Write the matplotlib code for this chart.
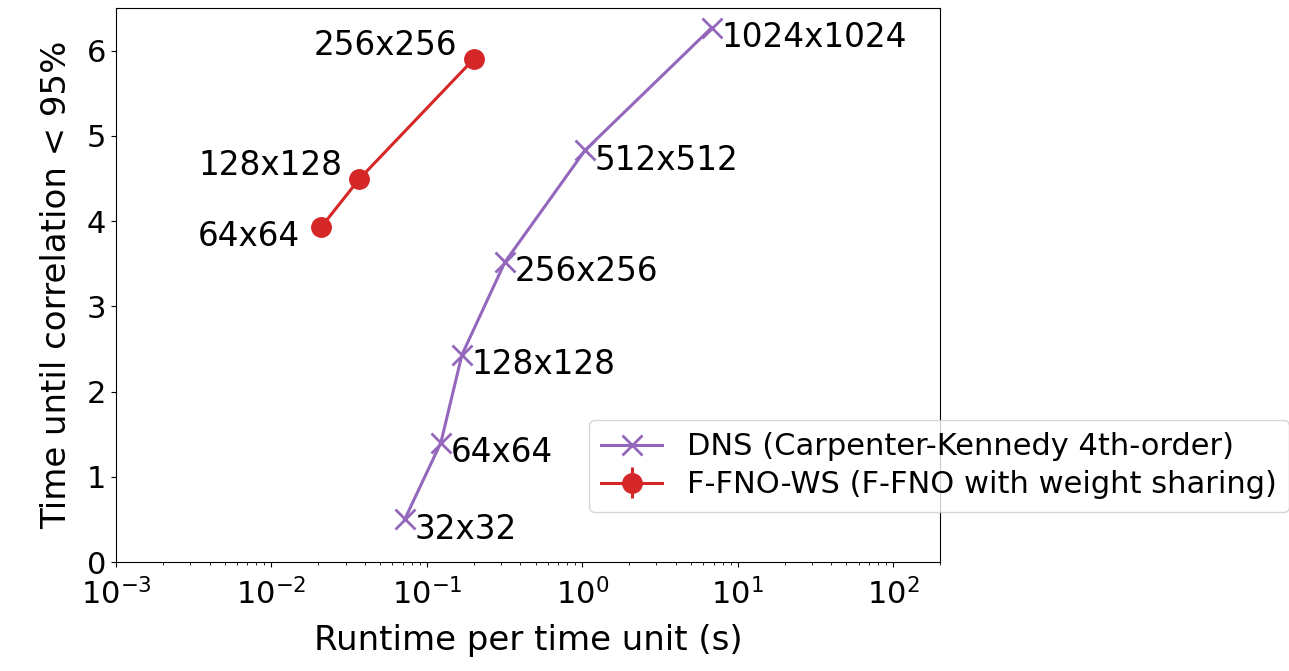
"""
Runtime vs. time until correlation drops below 95%, DNS vs F-FNO-WS.
"""

import matplotlib
matplotlib.use("Agg")
import matplotlib.pyplot as plt

plt.rcParams.update({'font.size': 22})

# ============================== data =========================================

dns_labels = ["32x32", "64x64", "128x128", "256x256", "512x512", "1024x1024"]
dns_runtime = [0.072, 0.123, 0.168, 0.318, 1.04, 6.8]
dns_corr_time = [0.50, 1.40, 2.43, 3.52, 4.83, 6.27]

ffno_labels = ["64x64", "128x128", "256x256"]
ffno_runtime = [0.0209, 0.0366, 0.200]
ffno_corr_time = [3.93, 4.49, 5.90]
ffno_err = [0.0, 0.0, 0.0]

# label offsets in points (annotation placement)
ffno_offsets = [(-15, -7), (-12, 10), (-12, 10)]

# ============================== main =========================================

def main():
    fig = plt.figure(figsize=(12.89, 6.71), dpi=100)
    ax = fig.add_axes([116 / 1289, 1 - 562 / 671, (940 - 116) / 1289, (562 - 8) / 671])

    ax.plot(dns_runtime, dns_corr_time, color='tab:purple', marker='x',
            markersize=14, markeredgewidth=2, linewidth=2.2,
            label='DNS (Carpenter-Kennedy 4th-order)')
    ax.errorbar(ffno_runtime, ffno_corr_time, yerr=ffno_err, color='tab:red',
                marker='o', markersize=14, linewidth=2.2, elinewidth=2.2,
                label='F-FNO-WS (F-FNO with weight sharing)')

    for lbl, x, y in zip(dns_labels, dns_runtime, dns_corr_time):
        ax.annotate(lbl, (x, y), xytext=(7, -7), textcoords='offset points',
                    ha='left', va='center', fontsize=23.5)
    for lbl, x, y, off in zip(ffno_labels, ffno_runtime, ffno_corr_time, ffno_offsets):
        ax.annotate(lbl, (x, y), xytext=off, textcoords='offset points',
                    ha='right', va='center', fontsize=23.5)

    ax.set_xscale('log')
    ax.set_xlim(1e-3, 2e2)
    ax.set_ylim(0, 6.5)
    ax.set_xticks([1e-3, 1e-2, 1e-1, 1e0, 1e1, 1e2])
    ax.tick_params(axis='x', pad=8)
    ax.set_xlabel('Runtime per time unit (s)', fontsize=24.5, labelpad=10)
    ax.set_ylabel('Time until correlation < 95%', fontsize=24.5, labelpad=10)

    ax.legend(loc='upper left', bbox_to_anchor=(589 / 1289, 1 - 420 / 671),
              bbox_transform=fig.transFigure, borderaxespad=0, fontsize=22,
              labelspacing=0.3)

    fig.savefig("out.png", dpi=100)


if __name__ == '__main__':
    main()
